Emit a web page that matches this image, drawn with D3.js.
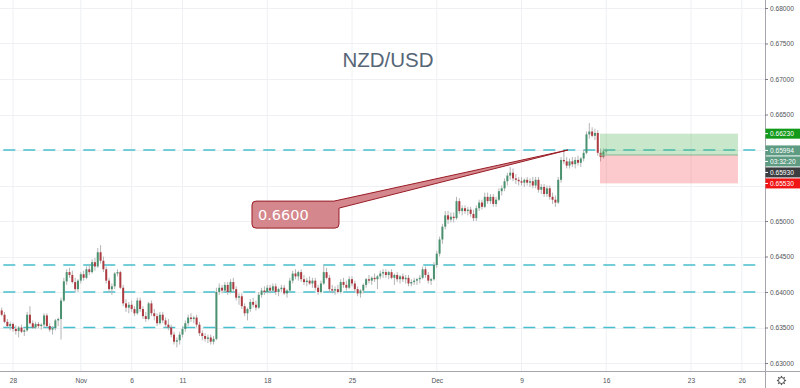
<!DOCTYPE html>
<html><head><meta charset="utf-8">
<script src="https://cdn.jsdelivr.net/npm/d3@7/dist/d3.min.js"></script>
<style>html,body{margin:0;padding:0;background:#fff;overflow:hidden}svg{display:block}</style>
</head><body><svg id="c" width="800" height="388"></svg>
<script>
// ---------- data ----------
const title = "NZD/USD";
const dayTickLabels = ["28","Nov","6","11","18","25","Dec","9","16","23","26"];
const dayTickIndex  = [0,4,7,10,15,20,25,30,35,40,43];   // trading-day index (Oct 28 = 0)
const priceTicks = [0.630,0.635,0.640,0.645,0.650,0.655,0.660,0.665,0.670,0.675,0.680];
const levels = [0.6600,0.6438,0.6400,0.6350];
const barsPerDay = 6;            // 4H candles
const firstBarDay = -4/6;        // Oct 25, 08:00
// OHLC in 1/10000
const opens = [
6374,6368,6358,6352,6355,6348,6345,6350,6344,6346,
6368,6356,6350,6355,6352,6354,6367,6352,6347,6349,
6360,6362,6388,6415,6428,6424,6414,6404,6416,6425,
6420,6432,6428,6442,6436,6456,6444,6432,6416,6404,
6408,6426,6428,6406,6384,6378,6382,6376,6370,6388,
6376,6366,6362,6384,6370,6366,6356,6368,6360,6354,
6350,6340,6330,6332,6340,6348,6356,6364,6362,6364,
6354,6342,6338,6334,6336,6330,6334,6400,6406,6402,
6410,6400,6414,6404,6392,6394,6380,6370,6376,6386,
6382,6378,6396,6402,6400,6406,6402,6408,6400,6404,
6406,6398,6402,6416,6426,6422,6428,6418,6414,6416,
6412,6416,6406,6400,6412,6428,6420,6404,6402,6404,
6400,6414,6410,6406,6418,6412,6404,6398,6402,6410,
6418,6416,6420,6418,6422,6426,6428,6424,6428,6420,
6424,6418,6422,6418,6420,6412,6414,6416,6418,6420,
6432,6424,6416,6418,6438,6454,6474,6492,6508,6502,
6506,6504,6528,6514,6518,6514,6516,6510,6504,6518,
6526,6520,6534,6528,6534,6524,6530,6542,6546,6556,
6564,6568,6560,6558,6556,6554,6558,6554,6556,6550,
6558,6544,6548,6538,6546,6534,6530,6526,6558,6586,
6584,6578,6584,6580,6586,6582,6588,6596,6622,6626,
6620,6624,6596,6590,6598];
const highs = [
6378,6372,6362,6358,6357,6353,6352,6354,6348,6372,
6380,6360,6358,6358,6356,6370,6370,6356,6352,6362,
6364,6392,6420,6432,6434,6430,6420,6418,6428,6430,
6436,6438,6446,6448,6462,6466,6450,6436,6420,6412,
6428,6432,6430,6410,6390,6386,6388,6380,6392,6392,
6380,6372,6386,6388,6376,6370,6372,6372,6364,6362,
6354,6344,6336,6344,6352,6360,6368,6370,6366,6368,
6358,6346,6342,6340,6340,6338,6406,6412,6410,6414,
6414,6418,6420,6408,6398,6398,6384,6378,6390,6392,
6388,6400,6406,6408,6410,6410,6412,6412,6406,6410,
6410,6404,6420,6430,6432,6430,6432,6424,6420,6422,
6420,6420,6410,6416,6438,6434,6424,6410,6408,6410,
6418,6420,6416,6422,6422,6416,6408,6404,6412,6420,
6424,6422,6426,6424,6430,6432,6432,6430,6432,6426,
6428,6424,6426,6424,6424,6418,6420,6420,6424,6436,
6436,6428,6420,6442,6458,6478,6496,6514,6514,6512,
6512,6534,6532,6522,6522,6520,6520,6516,6522,6530,
6530,6540,6540,6538,6538,6534,6546,6550,6560,6568,
6576,6574,6566,6562,6562,6560,6562,6560,6562,6562,
6562,6552,6552,6550,6550,6540,6536,6562,6590,6600,
6590,6588,6590,6590,6592,6590,6600,6626,6638,6632,
6630,6628,6602,6602,6602];
const lows = [
6366,6356,6350,6346,6344,6340,6336,6342,6338,6344,
6354,6348,6348,6349,6347,6350,6350,6344,6340,6346,
6352,6333,6386,6410,6420,6412,6400,6400,6412,6416,
6418,6424,6426,6430,6434,6440,6428,6412,6400,6396,
6404,6422,6404,6380,6372,6370,6372,6366,6368,6372,
6362,6358,6360,6366,6360,6352,6354,6356,6350,6346,
6336,6326,6322,6326,6336,6344,6352,6358,6356,6350,
6338,6332,6330,6328,6326,6326,6332,6396,6398,6400,
6396,6398,6400,6388,6382,6376,6366,6360,6372,6378,
6374,6376,6392,6396,6398,6398,6400,6396,6394,6400,
6396,6392,6400,6412,6418,6416,6414,6410,6408,6410,
6406,6402,6396,6398,6410,6418,6400,6398,6396,6398,
6398,6406,6402,6404,6408,6400,6394,6392,6398,6406,
6412,6410,6414,6404,6418,6420,6420,6418,6418,6410,
6414,6412,6414,6412,6408,6408,6410,6410,6412,6418,
6420,6412,6410,6416,6434,6450,6468,6488,6496,6498,
6498,6502,6510,6508,6510,6508,6506,6500,6500,6514,
6516,6518,6524,6524,6520,6520,6528,6536,6542,6550,
6558,6556,6552,6550,6550,6548,6550,6548,6546,6546,
6540,6538,6534,6534,6530,6524,6520,6524,6554,6580,
6574,6574,6576,6574,6578,6576,6584,6594,6616,6618,
6614,6592,6584,6588,6594];
const closes = [
6368,6358,6352,6355,6348,6345,6350,6344,6346,6368,
6356,6350,6355,6352,6354,6367,6352,6347,6349,6360,
6362,6388,6415,6428,6424,6414,6404,6416,6425,6420,
6432,6428,6442,6436,6456,6444,6432,6416,6404,6408,
6426,6428,6406,6384,6378,6382,6376,6370,6388,6376,
6366,6362,6384,6370,6366,6356,6368,6360,6354,6350,
6340,6330,6332,6340,6348,6356,6364,6362,6364,6354,
6342,6338,6334,6336,6330,6334,6400,6406,6402,6410,
6400,6414,6404,6392,6394,6380,6370,6376,6386,6382,
6378,6396,6402,6400,6406,6402,6408,6400,6404,6406,
6398,6402,6416,6426,6422,6428,6418,6414,6416,6412,
6416,6406,6400,6412,6428,6420,6404,6402,6404,6400,
6414,6410,6406,6418,6412,6404,6398,6402,6410,6418,
6416,6420,6418,6422,6426,6428,6424,6428,6420,6424,
6418,6422,6418,6420,6412,6414,6416,6418,6420,6432,
6424,6416,6418,6438,6454,6474,6492,6508,6502,6506,
6504,6528,6514,6518,6514,6516,6510,6504,6518,6526,
6520,6534,6528,6534,6524,6530,6542,6546,6556,6564,
6568,6560,6558,6556,6554,6558,6554,6556,6550,6558,
6544,6548,6538,6546,6534,6530,6526,6558,6586,6584,
6578,6584,6580,6586,6582,6588,6596,6622,6626,6620,
6624,6596,6590,6598,6599.4];
// position tool
const positionEntry = 0.6593, positionTarget = 0.6623, positionStop = 0.6553;
const positionFromDay = 34.63, positionToDay = 42.77;
const countdown = "03:32:20";
// callout
const calloutText = "0.6600";
const calloutAnchorDay = 32.74, calloutAnchorPrice = 0.6600;
const calloutBoxDay = 14.1, calloutBoxPrice = 0.6528;

// ---------- drawing ----------
const svg = d3.select("#c");
const W = 800, H = 388, plotR = 765, plotB = 371;
const FONT = "'Liberation Sans', Arial, sans-serif";
const x = d3.scaleLinear().domain([0, 40]).range([13, 691]);
const y = d3.scaleLinear().domain([0.63, 0.68]).range([363, 8]);
const p = v => v / 10000;

svg.append("rect").attr("width", W).attr("height", H).attr("fill", "#fff");
svg.append("defs").append("clipPath").attr("id", "clip")
  .append("rect").attr("x", 0).attr("y", 0).attr("width", plotR).attr("height", plotB);

const grid = svg.append("g").attr("clip-path", "url(#clip)");
grid.selectAll(".vg").data(dayTickIndex).join("line")
  .attr("x1", d => x(d)).attr("x2", d => x(d)).attr("y1", 0).attr("y2", plotB)
  .attr("stroke", "#eef0f3").attr("stroke-width", 1);
grid.selectAll(".hg").data(priceTicks).join("line")
  .attr("x1", 0).attr("x2", plotR).attr("y1", d => Math.round(y(d)) + 0.5).attr("y2", d => Math.round(y(d)) + 0.5)
  .attr("stroke", "#eef0f3").attr("stroke-width", 1);

// title
svg.append("text").attr("x", 388).attr("y", 67).attr("text-anchor", "middle")
  .attr("font-family", FONT).attr("font-size", 20.5).attr("fill", "#566676").text(title);

const plot = svg.append("g").attr("clip-path", "url(#clip)");

// dashed levels
plot.selectAll(".lvl").data(levels).join("line")
  .attr("x1", 0).attr("x2", 758).attr("y1", d => y(d)).attr("y2", d => y(d))
  .attr("stroke", "#47bfcc").attr("stroke-width", 1.6)
  .attr("stroke-dasharray", "12,8").attr("stroke-dashoffset", 16.7);

// candles
const bars = opens.map((o, i) => ({
  t: firstBarDay + i / barsPerDay, o: p(o), h: p(highs[i]), l: p(lows[i]), c: p(closes[i])
}));
const cg = plot.append("g");
cg.selectAll(".wick").data(bars).join("line")
  .attr("x1", d => x(d.t)).attr("x2", d => x(d.t))
  .attr("y1", d => y(d.h)).attr("y2", d => y(d.l))
  .attr("stroke", "#b5b5b5").attr("stroke-width", 1);
cg.selectAll(".body").data(bars).join("rect")
  .attr("x", d => x(d.t) - 1).attr("width", 2)
  .attr("y", d => y(Math.max(d.o, d.c)))
  .attr("height", d => Math.max(1, Math.abs(y(d.o) - y(d.c))))
  .attr("fill", d => d.c >= d.o ? "#4a9170" : "#ad3a40");

// position tool
const px0 = x(positionFromDay), px1 = x(positionToDay);
plot.append("rect").attr("x", px0).attr("width", px1 - px0)
  .attr("y", y(positionTarget)).attr("height", y(positionEntry) - y(positionTarget))
  .attr("fill", "rgba(76,175,80,0.3)");
plot.append("rect").attr("x", px0).attr("width", px1 - px0)
  .attr("y", y(positionEntry)).attr("height", y(positionStop) - y(positionEntry))
  .attr("fill", "rgba(245,60,70,0.27)");
plot.append("line").attr("x1", px0).attr("x2", px1).attr("y1", y(positionEntry)).attr("y2", y(positionEntry))
  .attr("stroke", "#86b892").attr("stroke-width", 1);

// callout
const bx0 = x(calloutBoxDay), by0 = y(calloutBoxPrice), bw = 87, bh = 27, r = 4;
const bx1 = bx0 + bw, by1 = by0 + bh;
const ax = x(calloutAnchorDay), ay = y(calloutAnchorPrice);
const path = `M${bx0 + r},${by0} L${bx1 - 5},${by0} L${ax},${ay} L${bx1},${by0 + 7} L${bx1},${by1 - r} Q${bx1},${by1} ${bx1 - r},${by1} L${bx0 + r},${by1} Q${bx0},${by1} ${bx0},${by1 - r} L${bx0},${by0 + r} Q${bx0},${by0} ${bx0 + r},${by0} Z`;
plot.append("path").attr("d", path).attr("fill", "#d4878c").attr("stroke", "#991c25").attr("stroke-width", 1)
  .attr("stroke-linejoin", "round");
plot.append("text").attr("x", bx0 + 6).attr("y", by0 + bh / 2 + 5.5)
  .attr("font-family", "'DejaVu Sans', sans-serif").attr("font-size", 14.5).attr("fill", "#fff").text(calloutText);

// axes borders
svg.append("line").attr("x1", 0).attr("x2", W).attr("y1", plotB + 0.5).attr("y2", plotB + 0.5).attr("stroke", "#a3a6ad");
svg.append("line").attr("x1", plotR + 0.5).attr("x2", plotR + 0.5).attr("y1", 0).attr("y2", H).attr("stroke", "#a3a6ad");

// price labels on the scale (computed first, to hide covered ticks)
const lastPrice = p(closes[closes.length - 1]);
const labels = [
  {v: positionTarget, t: d3.format(".5f")(positionTarget), bg: "#139a1a"},
  {v: lastPrice, t: d3.format(".5f")(lastPrice), bg: "#5d9c82"},
  {v: lastPrice - 1e-7, t: countdown, bg: "#5d9c82"},
  {v: positionEntry, t: d3.format(".5f")(positionEntry), bg: "#3b3d40"},
  {v: positionStop, t: d3.format(".5f")(positionStop), bg: "#f01414"}
];
const lh = 11;
let prev = -1e9;
labels.forEach(l => { let cy = y(l.v); if (cy < prev + lh) cy = prev + lh; l.cy = cy; prev = cy; });
const covered = d => labels.some(l => Math.abs(l.cy - y(d)) < lh);

// right axis
const ya = svg.append("g").attr("transform", `translate(${plotR},0)`)
  .call(d3.axisRight(y).tickValues(priceTicks.filter(d => !covered(d))).tickFormat(d3.format(".5f")).tickSize(3).tickPadding(2));
ya.select(".domain").remove();
ya.selectAll("line").attr("stroke", "#7a7d85");
ya.selectAll("text").attr("font-family", FONT).attr("font-size", 6.6).attr("fill", "#505358");

// bottom axis
const xa = svg.append("g").attr("transform", `translate(0,${plotB})`)
  .call(d3.axisBottom(x).tickValues(dayTickIndex).tickFormat((d, i) => dayTickLabels[i]).tickSize(0).tickPadding(7));
xa.select(".domain").remove();
xa.selectAll("text").attr("font-family", FONT).attr("font-size", 6.6).attr("fill", "#505358");

const lg = svg.append("g");
labels.forEach(l => {
  lg.append("rect").attr("x", plotR + 0.5).attr("y", l.cy - lh / 2 + 0.5).attr("width", W - plotR).attr("height", lh - 1)
    .attr("fill", l.bg);
  lg.append("line").attr("x1", plotR).attr("x2", plotR + 3).attr("y1", l.cy).attr("y2", l.cy).attr("stroke", "#fff");
  lg.append("text").attr("x", plotR + 5).attr("y", l.cy + 2.4).attr("font-family", FONT).attr("font-size", 6.6)
    .attr("fill", "#fff").text(l.t);
});

// gear icon
const gx = 781.5, gy = 380.5;
const gear = svg.append("g").attr("transform", `translate(${gx},${gy})`).attr("stroke", "#555").attr("fill", "none");
gear.append("circle").attr("r", 3).attr("stroke-width", 1);
d3.range(8).forEach(k => {
  const a = k * Math.PI / 4;
  gear.append("line").attr("x1", Math.cos(a) * 3).attr("y1", Math.sin(a) * 3)
    .attr("x2", Math.cos(a) * 4.6).attr("y2", Math.sin(a) * 4.6).attr("stroke-width", 1.3);
});
</script></body></html>
